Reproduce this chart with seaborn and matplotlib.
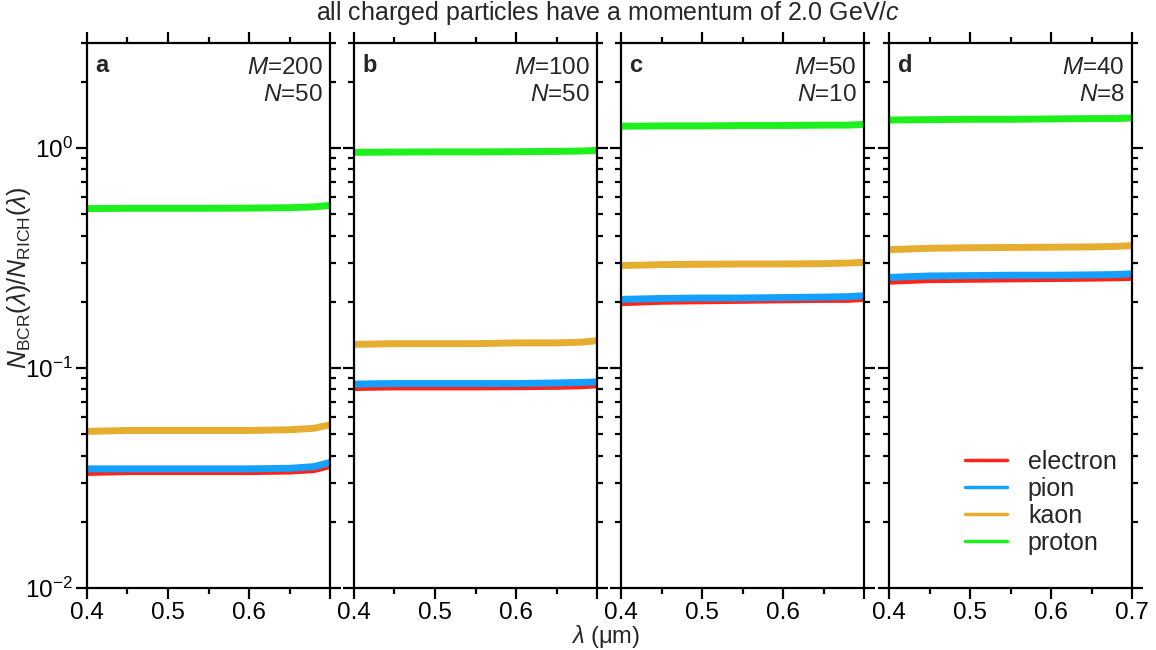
import numpy as np
import pandas as pd
import matplotlib
matplotlib.use("Agg")
import matplotlib.pyplot as plt
from matplotlib.lines import Line2D
from matplotlib.ticker import LogLocator, FixedLocator, NullFormatter
import seaborn as sns

# ---------------- data ----------------
wavelength = [0.40, 0.45, 0.50, 0.55, 0.60, 0.65, 0.68, 0.70]
particles = ["electron", "pion", "kaon", "proton"]
panel_labels = ["a", "b", "c", "d"]
M_values = [200, 100, 50, 40]
N_values = [50, 50, 10, 8]

a_electron = [0.0335, 0.0338, 0.0338, 0.0338, 0.0338, 0.0340, 0.0345, 0.0360]
a_pion     = [0.0348, 0.0348, 0.0348, 0.0348, 0.0348, 0.0350, 0.0356, 0.0372]
a_kaon     = [0.0515, 0.0520, 0.0520, 0.0520, 0.0520, 0.0524, 0.0532, 0.0552]
a_proton   = [0.530, 0.532, 0.532, 0.532, 0.533, 0.535, 0.540, 0.548]

b_electron = [0.0815, 0.0820, 0.0820, 0.0820, 0.0822, 0.0825, 0.0830, 0.0838]
b_pion     = [0.0845, 0.0850, 0.0850, 0.0850, 0.0850, 0.0855, 0.0860, 0.0865]
b_kaon     = [0.128, 0.129, 0.129, 0.129, 0.130, 0.130, 0.131, 0.133]
b_proton   = [0.955, 0.958, 0.960, 0.960, 0.962, 0.965, 0.968, 0.975]

c_electron = [0.198, 0.201, 0.202, 0.203, 0.204, 0.205, 0.205, 0.207]
c_pion     = [0.205, 0.207, 0.208, 0.208, 0.209, 0.210, 0.211, 0.213]
c_kaon     = [0.292, 0.295, 0.296, 0.297, 0.297, 0.298, 0.300, 0.302]
c_proton   = [1.255, 1.260, 1.260, 1.265, 1.265, 1.270, 1.270, 1.280]

d_electron = [0.248, 0.252, 0.253, 0.254, 0.255, 0.256, 0.257, 0.258]
d_pion     = [0.258, 0.262, 0.263, 0.264, 0.264, 0.265, 0.266, 0.268]
d_kaon     = [0.345, 0.350, 0.352, 0.353, 0.354, 0.355, 0.357, 0.360]
d_proton   = [1.340, 1.345, 1.350, 1.350, 1.355, 1.360, 1.360, 1.370]

panels = [
    [a_electron, a_pion, a_kaon, a_proton],
    [b_electron, b_pion, b_kaon, b_proton],
    [c_electron, c_pion, c_kaon, c_proton],
    [d_electron, d_pion, d_kaon, d_proton],
]

colors = {"electron": "#ff2418", "pion": "#14a0ff", "kaon": "#e6ae30", "proton": "#1ef01e"}

# ---------------- style ----------------
sns.set_style("ticks")
plt.rcParams["font.family"] = ["Liberation Sans", "DejaVu Sans"]
plt.rcParams["mathtext.fontset"] = "custom"
plt.rcParams["mathtext.rm"] = "Liberation Sans"
plt.rcParams["mathtext.it"] = "Liberation Sans:italic"
plt.rcParams["mathtext.bf"] = "Liberation Sans:bold"
plt.rcParams["axes.linewidth"] = 1.6

fig = plt.figure(figsize=(11.56, 6.5), dpi=100)
W, H = 1156, 650
lefts = [87, 354, 621, 889]
pw = 243
top_px, bot_px = 43, 588

axes = []
for i in range(4):
    ax = fig.add_axes([lefts[i] / W, (H - bot_px) / H, pw / W, (bot_px - top_px) / H])
    axes.append(ax)
    rows = []
    for p, vals in zip(particles, panels[i]):
        for x, y in zip(wavelength, vals):
            rows.append({"wavelength": x, "ratio": y, "particle": p})
    df = pd.DataFrame(rows)
    sns.lineplot(data=df, x="wavelength", y="ratio", hue="particle",
                 hue_order=particles, palette=colors, linewidth=5.0,
                 legend=False, ax=ax, solid_capstyle="butt")
    ax.set_yscale("log")
    ax.set_ylim(0.01, 3.0)
    ax.set_xlim(0.4, 0.7)
    ax.xaxis.set_major_locator(FixedLocator([0.4, 0.5, 0.6, 0.7]))
    ax.xaxis.set_minor_locator(FixedLocator([0.45, 0.55, 0.65]))
    ax.yaxis.set_major_locator(LogLocator(base=10, numticks=10))
    ax.yaxis.set_minor_locator(LogLocator(base=10, subs=np.arange(2, 10), numticks=10))
    ax.yaxis.set_minor_formatter(NullFormatter())
    ax.tick_params(which="both", direction="out", top=True, right=True,
                   width=1.6, colors="black", labelsize=17.5, pad=2)
    ax.tick_params(which="major", length=8)
    ax.tick_params(which="minor", length=4.5)
    if i < 3:
        ax.set_xticklabels(["0.4", "0.5", "0.6", ""])
    else:
        ax.set_xticklabels(["0.4", "0.5", "0.6", "0.7"])
    if i > 0:
        ax.tick_params(axis="y", which="both", labelleft=False)
    ax.set_xlabel("")
    ax.set_ylabel("")
    for s in ax.spines.values():
        s.set_linewidth(1.6)
        s.set_color("black")
    ax.text(0.035, 0.98, panel_labels[i], transform=ax.transAxes,
            fontsize=17, fontweight="bold", ha="left", va="top")
    ax.text(0.97, 0.975, f"$M$={M_values[i]}\n$N$={N_values[i]}",
            transform=ax.transAxes, fontsize=17.5, ha="right", va="top",
            linespacing=1.3)

fig.text(19 / W, 1 - 278 / H,
         r"$N_{\mathrm{BCR}}(\lambda)/N_{\mathrm{RICH}}(\lambda)$",
         rotation=90, ha="center", va="center", fontsize=18)

handles = [Line2D([0], [0], color=colors[p], lw=2.5) for p in particles]
axes[3].legend(handles, particles, loc="lower right", bbox_to_anchor=(1.03, 0.02),
               frameon=False, fontsize=18, handlelength=1.65, labelspacing=0.12,
               handletextpad=0.85)

fig.text(608 / W, 1 - 13 / H, r"all charged particles have a momentum of 2.0 GeV/$c$",
         ha="center", va="center", fontsize=18)
fig.text(605 / W, 1 - 637 / H, r"$\lambda$ ($\mathrm{\mu}$m)", ha="center",
         va="center", fontsize=17)

fig.savefig("out.png", dpi=100)
